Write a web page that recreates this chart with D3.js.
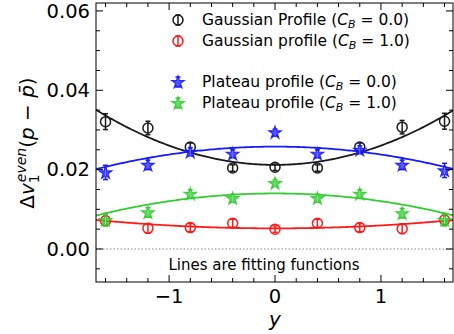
<!DOCTYPE html>
<html>
<head>
<meta charset="utf-8">
<script src="https://cdn.jsdelivr.net/npm/d3@7"></script>
<style>
  body { margin: 0; background: #fff; }
  svg { font-family: "DejaVu Sans", sans-serif; }
</style>
</head>
<body>
<div class="chart"></div>
<script>
// rapidity bins
const yBins = [-1.6, -1.2, -0.8, -0.4, 0, 0.4, 0.8, 1.2, 1.6];

// Gaussian profile, C_B = 0.0
const gaussCB0 = [0.0321, 0.0305, 0.0257, 0.0204, 0.0206, 0.0204, 0.0257, 0.0307, 0.0322];
const gaussCB0Err = [0.0020, 0.0017, 0.0010, 0.0008, 0.0008, 0.0008, 0.0010, 0.0017, 0.0020];
// Gaussian profile, C_B = 1.0
const gaussCB1 = [0.0071, 0.0052, 0.0054, 0.0065, 0.0050, 0.0065, 0.0054, 0.0051, 0.0073];
const gaussCB1Err = [0.0012, 0.0012, 0.0010, 0.0010, 0.0008, 0.0010, 0.0010, 0.0012, 0.0012];
// Plateau profile, C_B = 0.0
const plateauCB0 = [0.0193, 0.0212, 0.0245, 0.0240, 0.0294, 0.0240, 0.0250, 0.0212, 0.0198];
const plateauCB0Err = [0.0018, 0.0012, 0.0010, 0.0010, 0.0008, 0.0010, 0.0010, 0.0012, 0.0018];
// Plateau profile, C_B = 1.0
const plateauCB1 = [0.0073, 0.0092, 0.0139, 0.0128, 0.0166, 0.0128, 0.0139, 0.0090, 0.0073];
const plateauCB1Err = [0.0015, 0.0012, 0.0010, 0.0010, 0.0008, 0.0010, 0.0010, 0.0012, 0.0015];

// fitting functions a + b*y^2
const fitGaussCB0 = [0.0212, 0.00486];
const fitGaussCB1 = [0.0052, 0.00074];
const fitPlateauCB0 = [0.0258, -0.00199];
const fitPlateauCB1 = [0.0140, -0.00195];

const yTicks = [0, 0.02, 0.04, 0.06];
const xTicks = [-1, 0, 1];

const series = [
  { name: "Gaussian Profile", cb: "0.0", vals: gaussCB0, err: gaussCB0Err, fit: fitGaussCB0, color: "#1a1a1a", marker: "circle" },
  { name: "Gaussian profile", cb: "1.0", vals: gaussCB1, err: gaussCB1Err, fit: fitGaussCB1, color: "#ff1a1a", marker: "circle" },
  { name: "Plateau profile", cb: "0.0", vals: plateauCB0, err: plateauCB0Err, fit: fitPlateauCB0, color: "#1a1aff", marker: "star" },
  { name: "Plateau profile", cb: "1.0", vals: plateauCB1, err: plateauCB1Err, fit: fitPlateauCB1, color: "#33cc33", marker: "star" }
];

const W = 454, H = 334;
const margin = { top: 3, right: 1, bottom: 52, left: 96 };
const width = W - margin.left - margin.right,
  height = H - margin.top - margin.bottom;

const svg = d3.select(".chart").append("svg")
  .attr("width", W).attr("height", H);
const g = svg.append("g")
  .attr("transform", "translate(" + margin.left + "," + margin.top + ")");

const x = d3.scaleLinear().domain([-1.69, 1.68]).range([0, width]);
const y = d3.scaleLinear().domain([-0.00832, 0.062]).range([height, 0]);

g.append("clipPath").attr("id", "clip")
  .append("rect").attr("width", width).attr("height", height);

// zero line
g.append("line")
  .attr("x1", 0).attr("x2", width)
  .attr("y1", y(0)).attr("y2", y(0))
  .attr("stroke", "#888").attr("stroke-width", 1)
  .attr("stroke-dasharray", "1.5,2");

// fitting lines
const curveX = d3.range(-1.7, 1.71, 0.02);
const line = d3.line().x(d => x(d[0])).y(d => y(d[1]));
const plot = g.append("g").attr("clip-path", "url(#clip)");
series.forEach(s => {
  plot.append("path")
    .datum(curveX.map(v => [v, s.fit[0] + s.fit[1] * v * v]))
    .attr("d", line)
    .attr("fill", "none")
    .attr("stroke", s.color)
    .attr("stroke-width", 1.8);
});

const star = d3.symbol().type(d3.symbolStar).size(48);

function drawMarker(sel, s, cx, cy, errPx) {
  sel.append("line")
    .attr("x1", cx).attr("x2", cx)
    .attr("y1", cy - errPx).attr("y2", cy + errPx)
    .attr("stroke", s.color).attr("stroke-width", 1.5);
  [-errPx, errPx].forEach(e => {
    sel.append("line")
      .attr("x1", cx - 2.5).attr("x2", cx + 2.5)
      .attr("y1", cy + e).attr("y2", cy + e)
      .attr("stroke", s.color).attr("stroke-width", 1.5);
  });
  if (s.marker === "circle") {
    sel.append("circle")
      .attr("cx", cx).attr("cy", cy).attr("r", 5)
      .attr("fill", "none").attr("stroke", s.color).attr("stroke-width", 1.5);
  } else {
    sel.append("path")
      .attr("d", star())
      .attr("transform", "translate(" + cx + "," + (cy + 0.5) + ")")
      .attr("fill", s.color).attr("fill-opacity", 0.75)
      .attr("stroke", s.color).attr("stroke-width", 1.2).attr("stroke-opacity", 0.9);
    // lighter bar showing through the star
    sel.append("line")
      .attr("x1", cx).attr("x2", cx)
      .attr("y1", cy - 3).attr("y2", cy + 4)
      .attr("stroke", "#fff").attr("stroke-opacity", 0.45).attr("stroke-width", 1);
  }
}

// data points
series.forEach(s => {
  const pg = plot.append("g");
  yBins.forEach((yb, i) => {
    const cy = y(s.vals[i]);
    const errPx = y(s.vals[i] - s.err[i]) - cy;
    drawMarker(pg, s, x(yb), cy, errPx);
  });
});

// frame
g.append("rect")
  .attr("width", width).attr("height", height)
  .attr("fill", "none").attr("stroke", "#000").attr("stroke-width", 1);

// ticks on all four sides, pointing in
const majorX = xTicks, minorX = d3.range(-1.6, 1.61, 0.2).filter(v => Math.abs(v - Math.round(v)) > 1e-6);
const majorY = yTicks, minorY = d3.range(-0.005, 0.0601, 0.005).filter(v => Math.abs(v / 0.02 - Math.round(v / 0.02)) > 1e-6);
const tk = g.append("g").attr("stroke", "#000").attr("stroke-width", 1);
function xt(v, len) {
  tk.append("line").attr("x1", x(v)).attr("x2", x(v)).attr("y1", height).attr("y2", height - len);
  tk.append("line").attr("x1", x(v)).attr("x2", x(v)).attr("y1", 0).attr("y2", len);
}
function yt(v, len) {
  tk.append("line").attr("y1", y(v)).attr("y2", y(v)).attr("x1", 0).attr("x2", len);
  tk.append("line").attr("y1", y(v)).attr("y2", y(v)).attr("x1", width).attr("x2", width - len);
}
majorX.forEach(v => xt(v, 7));
minorX.forEach(v => xt(v, 4));
majorY.forEach(v => yt(v, 7));
minorY.forEach(v => yt(v, 4));

// tick labels
g.selectAll(".xlab").data(xTicks).join("text")
  .attr("x", d => x(d)).attr("y", height + 21)
  .attr("text-anchor", "middle").attr("font-size", 19.5)
  .text(d => d < 0 ? "\u2212" + Math.abs(d) : d);
g.selectAll(".ylab").data(yTicks).join("text")
  .attr("x", -6).attr("y", d => y(d)).attr("dy", "0.35em")
  .attr("text-anchor", "end").attr("font-size", 19.5)
  .text(d => d3.format(".2f")(d));

// axis titles
g.append("text")
  .attr("x", x(0)).attr("y", height + 44)
  .attr("text-anchor", "middle").attr("font-size", 20)
  .attr("font-style", "italic").text("y");

const yl = svg.append("text")
  .attr("transform", "translate(34,143) rotate(-90)")
  .attr("text-anchor", "middle").attr("font-size", 20);
yl.append("tspan").text("\u0394");
yl.append("tspan").attr("font-style", "italic").text("v");
yl.append("tspan").attr("font-size", 14).attr("dy", 5).text("1");
yl.append("tspan").attr("font-size", 14).attr("font-style", "italic").attr("dx", -8).attr("dy", -13).text("even");
yl.append("tspan").attr("dy", 8).text("(");
yl.append("tspan").attr("font-style", "italic").text("p");
yl.append("tspan").text(" \u2212 ");
yl.append("tspan").attr("font-style", "italic").text("p\u0304");
yl.append("tspan").text(")");

// legend
const legY = [20, 41, 82, 103];
const leg = svg.append("g");
series.forEach((s, i) => {
  drawMarker(leg, s, 178, legY[i], 5);
  const t = leg.append("text")
    .attr("x", 202).attr("y", legY[i]).attr("dy", "0.35em")
    .attr("font-size", 15.5).attr("fill", "#000");
  t.append("tspan").text(s.name + " (");
  t.append("tspan").attr("font-style", "italic").text("C");
  t.append("tspan").attr("font-style", "italic").attr("font-size", 11).attr("dy", 3).text("B");
  t.append("tspan").attr("dy", -3).text(" = " + s.cb + ")");
});

// note
svg.append("text")
  .attr("x", 264).attr("y", 265).attr("dy", "0.35em")
  .attr("text-anchor", "middle").attr("font-size", 15)
  .text("Lines are fitting functions");
</script>
</body>
</html>
